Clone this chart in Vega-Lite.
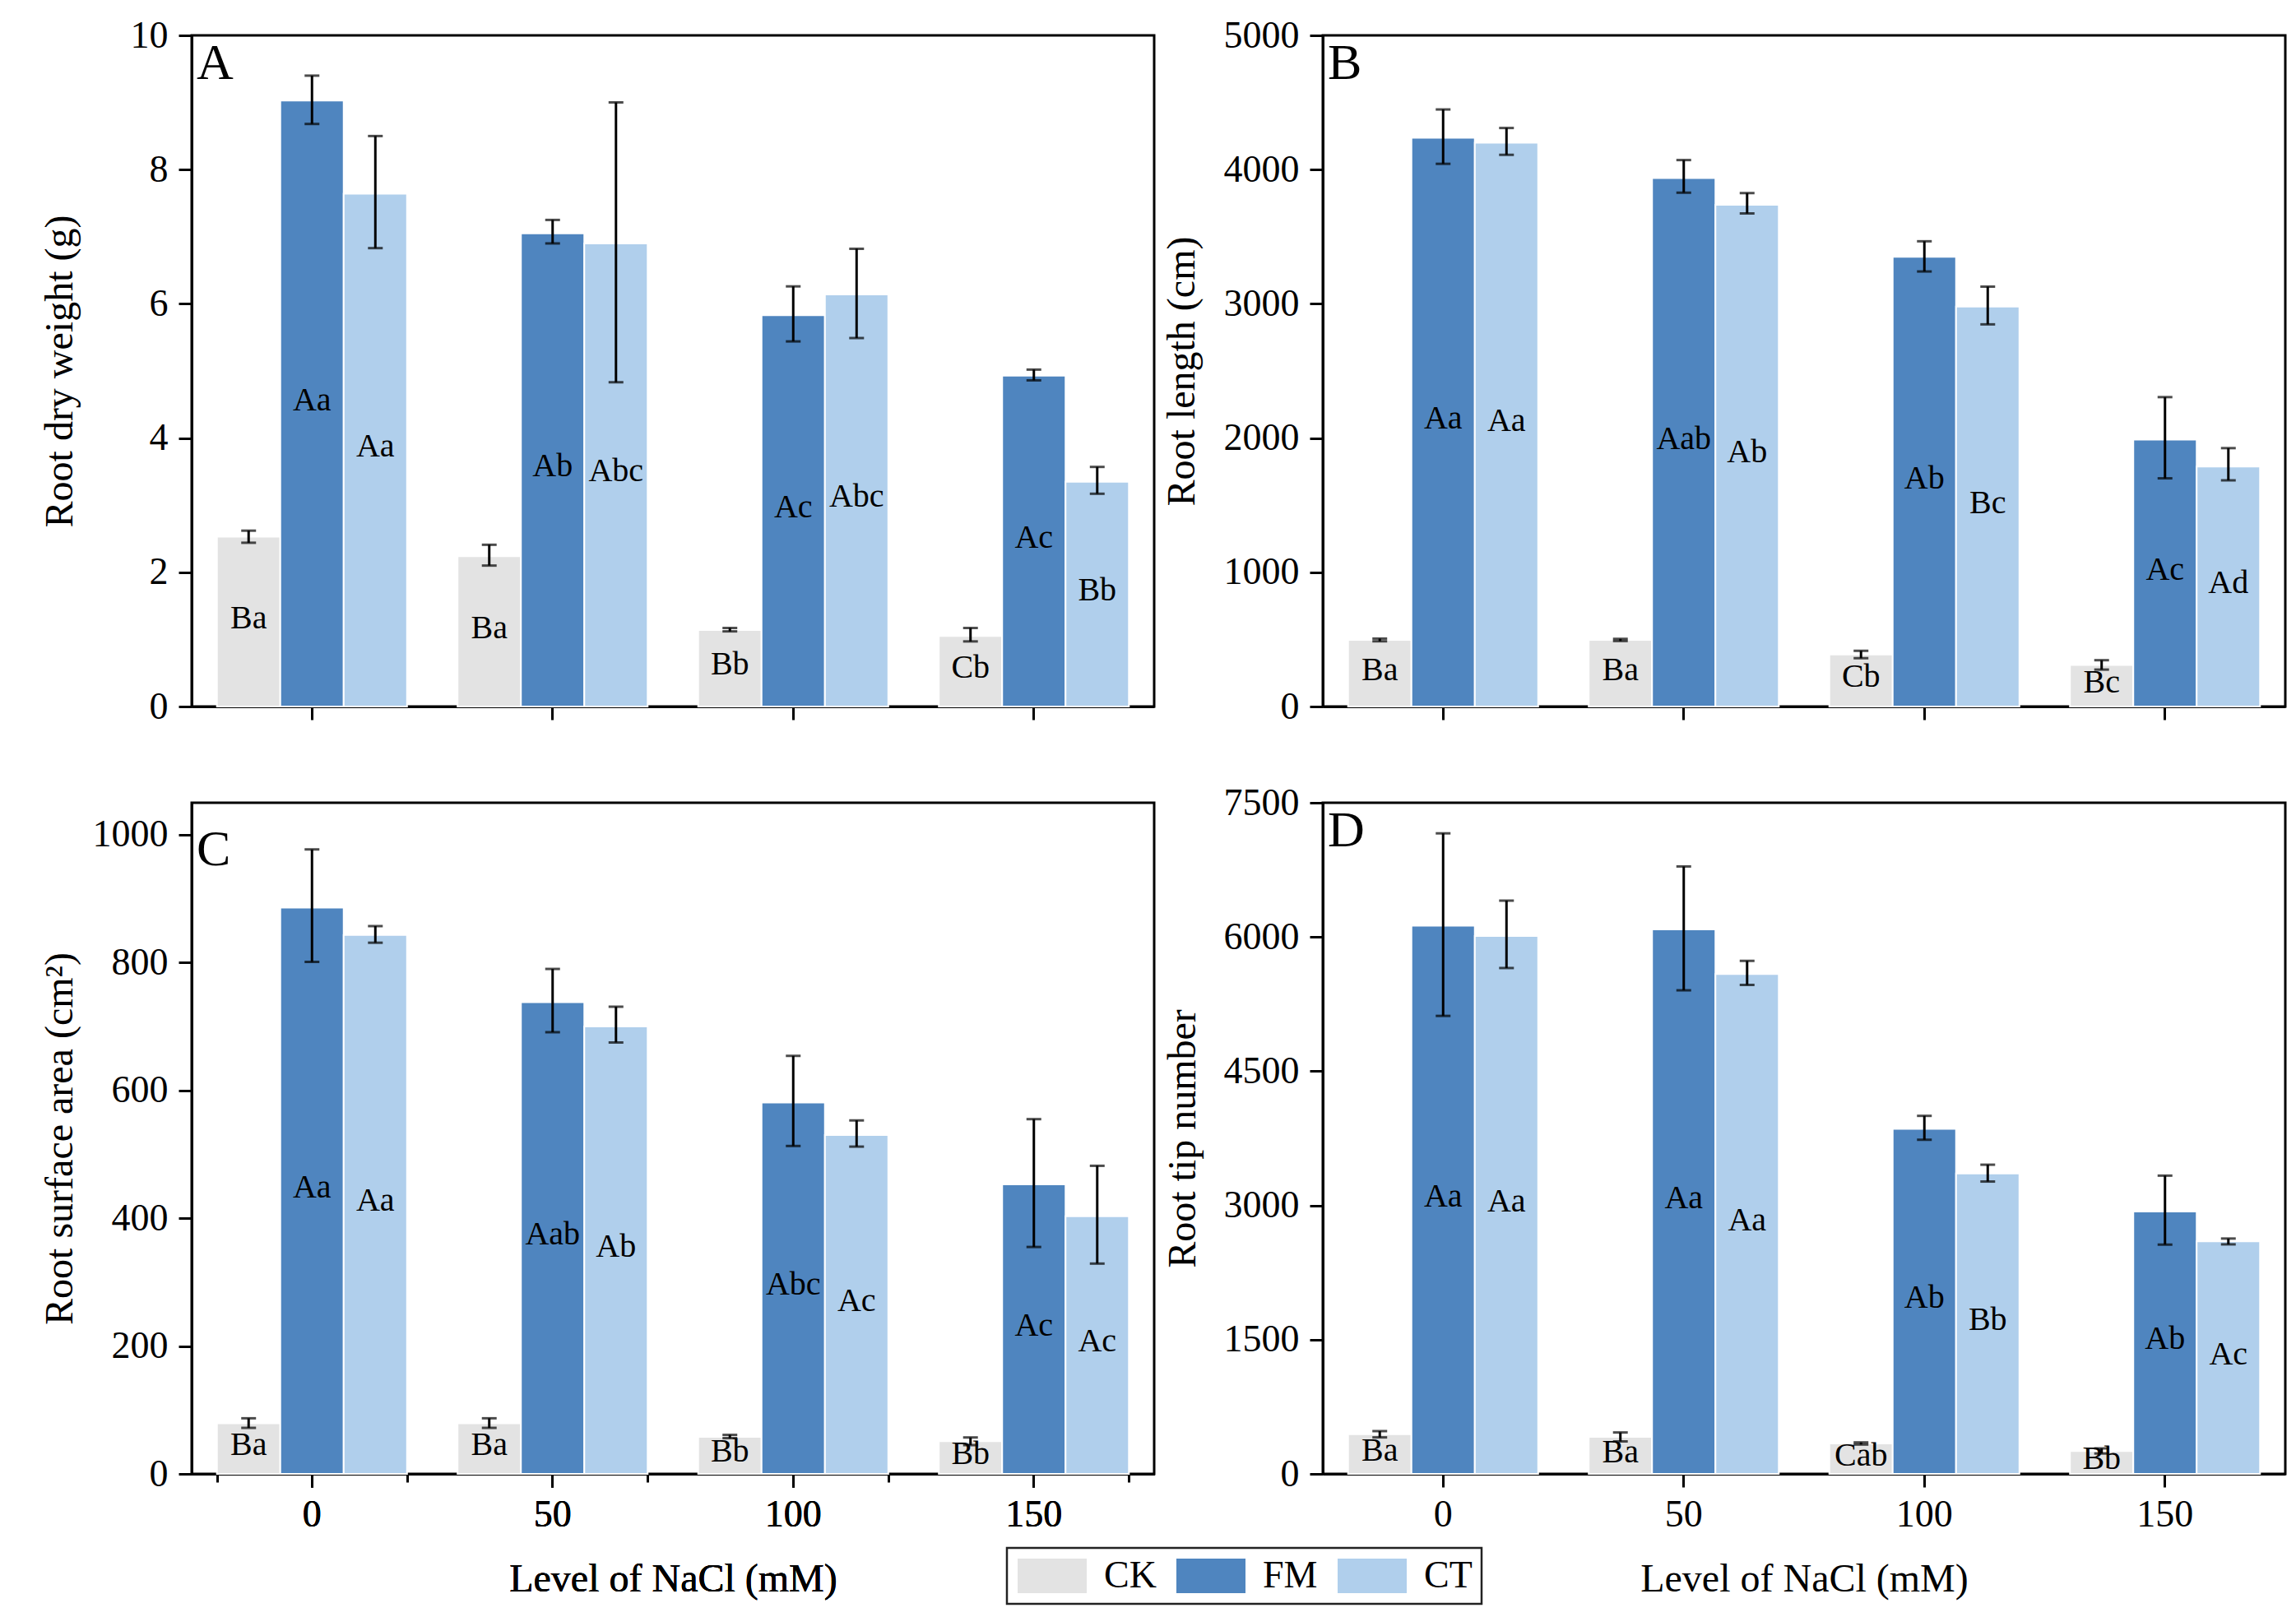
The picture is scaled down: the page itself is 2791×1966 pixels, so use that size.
{
  "$schema": "https://vega.github.io/schema/vega-lite/v6.json",
  "background": "white",
  "padding": {"left": 47, "top": 18, "right": 14, "bottom": 3},
  "data": {"values": [
    {"panel":"A","level":"0","trt":"CK","value":2.53,"lo":2.44,"hi":2.62,"label":"Ba"},
    {"panel":"A","level":"0","trt":"FM","value":9.03,"lo":8.68,"hi":9.40,"label":"Aa"},
    {"panel":"A","level":"0","trt":"CT","value":7.64,"lo":6.83,"hi":8.50,"label":"Aa"},
    {"panel":"A","level":"50","trt":"CK","value":2.24,"lo":2.10,"hi":2.41,"label":"Ba"},
    {"panel":"A","level":"50","trt":"FM","value":7.05,"lo":6.90,"hi":7.25,"label":"Ab"},
    {"panel":"A","level":"50","trt":"CT","value":6.90,"lo":4.83,"hi":9.00,"label":"Abc"},
    {"panel":"A","level":"100","trt":"CK","value":1.14,"lo":1.12,"hi":1.17,"label":"Bb"},
    {"panel":"A","level":"100","trt":"FM","value":5.83,"lo":5.44,"hi":6.26,"label":"Ac"},
    {"panel":"A","level":"100","trt":"CT","value":6.14,"lo":5.49,"hi":6.82,"label":"Abc"},
    {"panel":"A","level":"150","trt":"CK","value":1.05,"lo":0.97,"hi":1.17,"label":"Cb"},
    {"panel":"A","level":"150","trt":"FM","value":4.93,"lo":4.86,"hi":5.02,"label":"Ac"},
    {"panel":"A","level":"150","trt":"CT","value":3.35,"lo":3.17,"hi":3.57,"label":"Bb"},
    {"panel":"B","level":"0","trt":"CK","value":496,"lo":486,"hi":506,"label":"Ba"},
    {"panel":"B","level":"0","trt":"FM","value":4237,"lo":4043,"hi":4448,"label":"Aa"},
    {"panel":"B","level":"0","trt":"CT","value":4201,"lo":4110,"hi":4310,"label":"Aa"},
    {"panel":"B","level":"50","trt":"CK","value":496,"lo":488,"hi":504,"label":"Ba"},
    {"panel":"B","level":"50","trt":"FM","value":3937,"lo":3828,"hi":4071,"label":"Aab"},
    {"panel":"B","level":"50","trt":"CT","value":3737,"lo":3673,"hi":3825,"label":"Ab"},
    {"panel":"B","level":"100","trt":"CK","value":387,"lo":360,"hi":415,"label":"Cb"},
    {"panel":"B","level":"100","trt":"FM","value":3350,"lo":3241,"hi":3466,"label":"Ab"},
    {"panel":"B","level":"100","trt":"CT","value":2980,"lo":2847,"hi":3128,"label":"Bc"},
    {"panel":"B","level":"150","trt":"CK","value":310,"lo":275,"hi":345,"label":"Bc"},
    {"panel":"B","level":"150","trt":"FM","value":1988,"lo":1700,"hi":2305,"label":"Ac"},
    {"panel":"B","level":"150","trt":"CT","value":1788,"lo":1685,"hi":1925,"label":"Ad"},
    {"panel":"C","level":"0","trt":"CK","value":79,"lo":72,"hi":87,"label":"Ba"},
    {"panel":"C","level":"0","trt":"FM","value":886,"lo":801,"hi":977,"label":"Aa"},
    {"panel":"C","level":"0","trt":"CT","value":843,"lo":831,"hi":857,"label":"Aa"},
    {"panel":"C","level":"50","trt":"CK","value":79,"lo":72,"hi":87,"label":"Ba"},
    {"panel":"C","level":"50","trt":"FM","value":738,"lo":691,"hi":790,"label":"Aab"},
    {"panel":"C","level":"50","trt":"CT","value":700,"lo":675,"hi":731,"label":"Ab"},
    {"panel":"C","level":"100","trt":"CK","value":58,"lo":56,"hi":61,"label":"Bb"},
    {"panel":"C","level":"100","trt":"FM","value":581,"lo":513,"hi":654,"label":"Abc"},
    {"panel":"C","level":"100","trt":"CT","value":530,"lo":512,"hi":553,"label":"Ac"},
    {"panel":"C","level":"150","trt":"CK","value":51,"lo":45,"hi":57,"label":"Bb"},
    {"panel":"C","level":"150","trt":"FM","value":453,"lo":355,"hi":555,"label":"Ac"},
    {"panel":"C","level":"150","trt":"CT","value":403,"lo":329,"hi":482,"label":"Ac"},
    {"panel":"D","level":"0","trt":"CK","value":443,"lo":408,"hi":478,"label":"Ba"},
    {"panel":"D","level":"0","trt":"FM","value":6126,"lo":5118,"hi":7158,"label":"Aa"},
    {"panel":"D","level":"0","trt":"CT","value":6011,"lo":5653,"hi":6406,"label":"Aa"},
    {"panel":"D","level":"50","trt":"CK","value":413,"lo":363,"hi":463,"label":"Ba"},
    {"panel":"D","level":"50","trt":"FM","value":6084,"lo":5404,"hi":6788,"label":"Aa"},
    {"panel":"D","level":"50","trt":"CT","value":5586,"lo":5464,"hi":5732,"label":"Aa"},
    {"panel":"D","level":"100","trt":"CK","value":340,"lo":328,"hi":352,"label":"Cab"},
    {"panel":"D","level":"100","trt":"FM","value":3855,"lo":3734,"hi":4001,"label":"Ab"},
    {"panel":"D","level":"100","trt":"CT","value":3358,"lo":3267,"hi":3455,"label":"Bb"},
    {"panel":"D","level":"150","trt":"CK","value":255,"lo":228,"hi":285,"label":"Bb"},
    {"panel":"D","level":"150","trt":"FM","value":2933,"lo":2562,"hi":3333,"label":"Ab"},
    {"panel":"D","level":"150","trt":"CT","value":2599,"lo":2565,"hi":2630,"label":"Ac"}
  ]},
  "config": {
    "font": "Liberation Serif",
    "view": {"stroke": "black", "strokeWidth": 3},
    "axis": {"labelFont": "Liberation Serif", "titleFont": "Liberation Serif", "labelFontSize": 46, "titleFontSize": 48, "titleFontWeight": "normal", "labelColor": "black", "titleColor": "black", "domainColor": "black", "domainWidth": 3, "tickColor": "black", "tickWidth": 3, "tickSize": 16, "grid": false, "labelPadding": 13},
    "legend": {"orient": "none", "legendX": 991, "legendY": 1839, "direction": "horizontal", "symbolType": "M-1,-1H3V1H-1Z", "symbolSize": 1764, "symbolStrokeWidth": 0, "symbolOpacity": 1, "labelFont": "Liberation Serif", "labelFontSize": 46, "labelColor": "black", "strokeColor": "#222222", "strokeWidth": 2.5, "padding": 11, "columnPadding": 22, "labelOffset": 61},
    "title": {"font": "Liberation Serif", "fontSize": 62, "fontWeight": "normal", "color": "black", "anchor": "start", "frame": "group", "offset": -89, "dx": 6}
  },
  "columns": 2,
  "bounds": "flush",
  "spacing": {"row": 117, "column": 205},
  "resolve": {"scale": {"y": "independent", "x": "independent", "xOffset": "independent"}},
  "concat": [
    {
      "width": 1170, "height": 816,
      "title": {"text": "A"},
      "transform": [{"filter": "datum.panel === 'A'"}, {"calculate": "datum.value / 2", "as": "mid"}],
      "encoding": {
        "x": {"field": "level", "type": "nominal", "sort": ["0","50","100","150"], "scale": {"paddingInner": 0.21, "paddingOuter": 0.105}, "axis": {"labels": false, "title": null, "labelAngle": 0}},
        "xOffset": {"field": "trt", "type": "nominal", "sort": ["CK","FM","CT"], "scale": {"paddingInner": 0, "paddingOuter": 0}}
      },
      "layer": [
        {"mark": {"type": "bar", "stroke": "white", "strokeWidth": 2},
         "encoding": {
           "y": {"field": "value", "type": "quantitative", "title": "Root dry weight (g)", "scale": {"domain": [0, 10], "nice": false}, "axis": {"values": [0,2,4,6,8,10], "format": "d", "titlePadding": 61}},
           "color": {"field": "trt", "type": "nominal", "sort": ["CK","FM","CT"], "scale": {"domain": ["CK","FM","CT"], "range": ["#e3e3e3","#4f85bf","#b0cfec"]}, "legend": {"title": null}}
         }},
        {"mark": {"type": "rule", "color": "black", "strokeWidth": 3},
         "encoding": {"y": {"field": "lo", "type": "quantitative", "title": "Root dry weight (g)"}, "y2": {"field": "hi"}}},
        {"mark": {"type": "tick", "color": "black", "thickness": 3, "size": 18, "orient": "horizontal"},
         "encoding": {"y": {"field": "lo", "type": "quantitative", "title": "Root dry weight (g)"}}},
        {"mark": {"type": "tick", "color": "black", "thickness": 3, "size": 18, "orient": "horizontal"},
         "encoding": {"y": {"field": "hi", "type": "quantitative", "title": "Root dry weight (g)"}}},
        {"mark": {"type": "text", "font": "Liberation Serif", "fontSize": 40, "color": "black", "baseline": "middle", "dy": -4},
         "encoding": {"y": {"field": "mid", "type": "quantitative", "title": "Root dry weight (g)"}, "text": {"field": "label"}}}
      ]
    },
    {
      "width": 1170, "height": 816,
      "title": {"text": "B"},
      "transform": [{"filter": "datum.panel === 'B'"}, {"calculate": "datum.value / 2", "as": "mid"}],
      "encoding": {
        "x": {"field": "level", "type": "nominal", "sort": ["0","50","100","150"], "scale": {"paddingInner": 0.21, "paddingOuter": 0.105}, "axis": {"labels": false, "title": null, "labelAngle": 0}},
        "xOffset": {"field": "trt", "type": "nominal", "sort": ["CK","FM","CT"], "scale": {"paddingInner": 0, "paddingOuter": 0}}
      },
      "layer": [
        {"mark": {"type": "bar", "stroke": "white", "strokeWidth": 2},
         "encoding": {
           "y": {"field": "value", "type": "quantitative", "title": "Root length (cm)", "scale": {"domain": [0, 5000], "nice": false}, "axis": {"values": [0,1000,2000,3000,4000,5000], "format": "d", "titlePadding": 26}},
           "color": {"field": "trt", "type": "nominal", "sort": ["CK","FM","CT"], "scale": {"domain": ["CK","FM","CT"], "range": ["#e3e3e3","#4f85bf","#b0cfec"]}, "legend": {"title": null}}
         }},
        {"mark": {"type": "rule", "color": "black", "strokeWidth": 3},
         "encoding": {"y": {"field": "lo", "type": "quantitative", "title": "Root length (cm)"}, "y2": {"field": "hi"}}},
        {"mark": {"type": "tick", "color": "black", "thickness": 3, "size": 18, "orient": "horizontal"},
         "encoding": {"y": {"field": "lo", "type": "quantitative", "title": "Root length (cm)"}}},
        {"mark": {"type": "tick", "color": "black", "thickness": 3, "size": 18, "orient": "horizontal"},
         "encoding": {"y": {"field": "hi", "type": "quantitative", "title": "Root length (cm)"}}},
        {"mark": {"type": "text", "font": "Liberation Serif", "fontSize": 40, "color": "black", "baseline": "middle", "dy": -4},
         "encoding": {"y": {"field": "mid", "type": "quantitative", "title": "Root length (cm)"}, "text": {"field": "label"}}}
      ]
    },
    {
      "width": 1170, "height": 816,
      "title": {"text": "C"},
      "transform": [{"filter": "datum.panel === 'C'"}, {"calculate": "datum.value / 2", "as": "mid"}],
      "encoding": {
        "x": {"field": "level", "type": "nominal", "sort": ["0","50","100","150"], "scale": {"paddingInner": 0.21, "paddingOuter": 0.105}, "axis": {"title": "Level of NaCl (mM)", "labelAngle": 0, "labelPadding": 11, "titlePadding": 32, "orient": "bottom"}},
        "xOffset": {"field": "trt", "type": "nominal", "sort": ["CK","FM","CT"], "scale": {"paddingInner": 0, "paddingOuter": 0}}
      },
      "resolve": {"axis": {"x": "independent"}},
      "layer": [
        {"mark": {"type": "bar", "stroke": "white", "strokeWidth": 2},
         "encoding": {
           "y": {"field": "value", "type": "quantitative", "title": "Root surface area (cm²)", "scale": {"domain": [0, 1050], "nice": false}, "axis": {"values": [0,200,400,600,800,1000], "format": "d", "titlePadding": 15}},
           "color": {"field": "trt", "type": "nominal", "sort": ["CK","FM","CT"], "scale": {"domain": ["CK","FM","CT"], "range": ["#e3e3e3","#4f85bf","#b0cfec"]}, "legend": {"title": null}}
         }},
        {"mark": {"type": "rule", "color": "black", "strokeWidth": 3},
         "encoding": {"y": {"field": "lo", "type": "quantitative", "title": "Root surface area (cm²)"}, "y2": {"field": "hi"}}},
        {"mark": {"type": "tick", "color": "black", "thickness": 3, "size": 18, "orient": "horizontal"},
         "encoding": {"y": {"field": "lo", "type": "quantitative", "title": "Root surface area (cm²)"}}},
        {"mark": {"type": "tick", "color": "black", "thickness": 3, "size": 18, "orient": "horizontal"},
         "encoding": {"y": {"field": "hi", "type": "quantitative", "title": "Root surface area (cm²)"}}},
        {"mark": {"type": "text", "font": "Liberation Serif", "fontSize": 40, "color": "black", "baseline": "middle", "dy": -4},
         "encoding": {
           "x": {"field": "level", "type": "nominal", "sort": ["0","50","100","150"], "axis": {"orient": "bottom", "tickBand": "extent", "labels": false, "title": null, "domain": false, "tickSize": 10}},
           "y": {"field": "mid", "type": "quantitative", "title": "Root surface area (cm²)"}, "text": {"field": "label"}}}
      ]
    },
    {
      "width": 1170, "height": 816,
      "title": {"text": "D"},
      "transform": [{"filter": "datum.panel === 'D'"}, {"calculate": "datum.value / 2", "as": "mid"}],
      "encoding": {
        "x": {"field": "level", "type": "nominal", "sort": ["0","50","100","150"], "scale": {"paddingInner": 0.21, "paddingOuter": 0.105}, "axis": {"title": "Level of NaCl (mM)", "labelAngle": 0, "labelPadding": 11, "titlePadding": 32}},
        "xOffset": {"field": "trt", "type": "nominal", "sort": ["CK","FM","CT"], "scale": {"paddingInner": 0, "paddingOuter": 0}}
      },
      "layer": [
        {"mark": {"type": "bar", "stroke": "white", "strokeWidth": 2},
         "encoding": {
           "y": {"field": "value", "type": "quantitative", "title": "Root tip number", "scale": {"domain": [0, 7500], "nice": false}, "axis": {"values": [0,1500,3000,4500,6000,7500], "format": "d", "titlePadding": 25}},
           "color": {"field": "trt", "type": "nominal", "sort": ["CK","FM","CT"], "scale": {"domain": ["CK","FM","CT"], "range": ["#e3e3e3","#4f85bf","#b0cfec"]}, "legend": {"title": null}}
         }},
        {"mark": {"type": "rule", "color": "black", "strokeWidth": 3},
         "encoding": {"y": {"field": "lo", "type": "quantitative", "title": "Root tip number"}, "y2": {"field": "hi"}}},
        {"mark": {"type": "tick", "color": "black", "thickness": 3, "size": 18, "orient": "horizontal"},
         "encoding": {"y": {"field": "lo", "type": "quantitative", "title": "Root tip number"}}},
        {"mark": {"type": "tick", "color": "black", "thickness": 3, "size": 18, "orient": "horizontal"},
         "encoding": {"y": {"field": "hi", "type": "quantitative", "title": "Root tip number"}}},
        {"mark": {"type": "text", "font": "Liberation Serif", "fontSize": 40, "color": "black", "baseline": "middle", "dy": -4},
         "encoding": {"y": {"field": "mid", "type": "quantitative", "title": "Root tip number"}, "text": {"field": "label"}}}
      ]
    }
  ]
}
